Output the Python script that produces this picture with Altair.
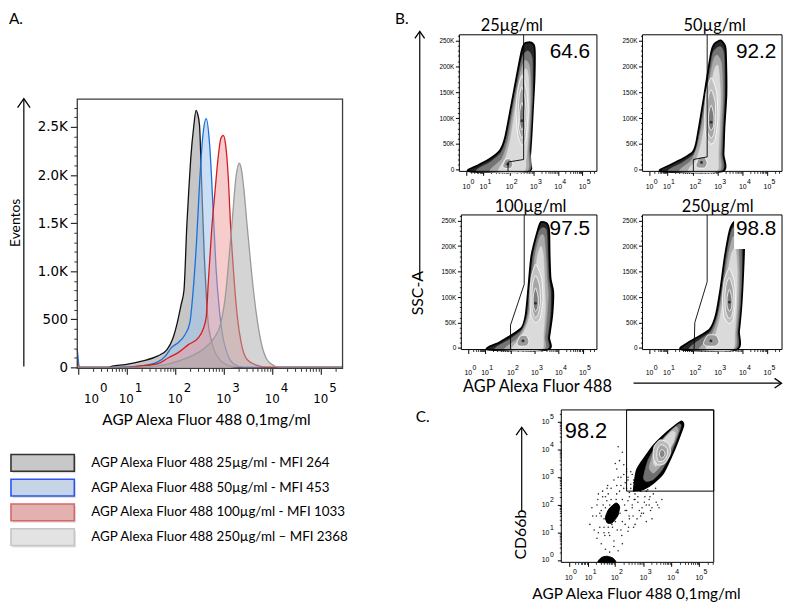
import math
import altair as alt
import pandas as pd

W, H = 784, 596   # chart box; chart coordinate = page coordinate - 8

# ---------------- Panel A: overlaid histograms (x = decades, y = events) ----------------
h25_x = [-0.02, 0.03, 0.6, 0.7, 0.97, 1.31, 1.63, 1.83, 1.95, 2.04, 2.12, 2.18, 2.24, 2.28, 2.32,
         2.38, 2.43, 2.46, 2.50, 2.55, 2.60, 2.64, 2.68, 2.74, 2.80, 2.90, 2.98, 3.15, 3.30, 5.45]
h25_y = [40, 0, 0, 12, 30, 65, 117, 185, 300, 460, 650, 802, 1488, 1850, 2174,
         2500, 2672, 2640, 2520, 1831, 1145, 750, 460, 290, 185, 90, 50, 10, 0, 0]
h50_x = [-0.02, 0.03, 0.8, 1.31, 1.65, 1.8, 1.92, 2.06, 2.20, 2.30, 2.37, 2.44, 2.50, 2.57, 2.64,
         2.71, 2.78, 2.84, 2.91, 2.98, 3.08, 3.22, 3.42, 5.45]
h50_y = [190, 0, 0, 15, 60, 120, 206, 257, 340, 463, 802, 1317, 1900, 2414, 2586,
         2310, 1660, 1042, 597, 322, 134, 31, 0, 0]
h100_x = [-0.02, 0.03, 1.0, 1.29, 1.65, 1.86, 2.06, 2.27, 2.47, 2.57, 2.64, 2.68, 2.75, 2.82, 2.89,
          2.94, 2.99, 3.04, 3.09, 3.14, 3.21, 3.28, 3.36, 3.48, 3.69, 3.89, 5.45]
h100_y = [60, 0, 0, 15, 40, 100, 154, 237, 305, 391, 528, 871, 1420, 1831, 2208,
          2380, 2414, 2311, 2003, 1488, 940, 528, 254, 82, 20, 0, 0]
h250_x = [-0.02, 0.03, 1.2, 1.65, 2.06, 2.33, 2.60, 2.80, 2.94, 3.04, 3.11, 3.18, 3.25, 3.32, 3.36,
          3.42, 3.48, 3.55, 3.62, 3.69, 3.79, 3.89, 4.03, 4.16, 5.45]
h250_y = [30, 0, 0, 15, 65, 117, 200, 305, 460, 768, 1145, 1557, 1968, 2123, 2070,
          1831, 1488, 1111, 768, 494, 220, 82, 20, 0, 0]
hist_fill = ["#9c9c9c", "#9fc4ee", "#ee9a9a", "#aaaaaa"]
hist_fill_opacity = [0.58, 0.55, 0.5, 0.5]
hist_line = ["#111111", "#1a6fd8", "#d81c1c", "#9a9a9a"]

legend_labels = ["AGP Alexa Fluor 488 25µg/ml - MFI 264",
                 "AGP Alexa Fluor 488 50µg/ml - MFI 453",
                 "AGP Alexa Fluor 488 100µg/ml - MFI 1033",
                 "AGP Alexa Fluor 488 250µg/ml – MFI 2368"]
legend_fill = ["#c8c8c8", "#c5d5e7", "#e4b1b1", "#e3e3e3"]
legend_stroke = ["#333333", "#2b55f0", "#d46868", "#c6c6c6"]

decade_exps = [0, 1, 2, 3, 4, 5]
A_x_major = [0, 1, 2, 3, 4, 5]
A_x_label_pos = [0.275, 0.99, 2, 3, 4, 5]
A_y_major = [0, 500, 1000, 1500, 2000, 2500]

# ---------------- Panel B: SSC-A vs AGP density plots (u = display decades, k = SSC-A in K) ----------------
b_titles = ["25µg/ml", "50µg/ml", "100µg/ml", "250µg/ml"]
b_values = ["64.6", "92.2", "97.5", "98.8"]
b_value_pos = [(4.42, 227), (4.48, 227), (4.40, 233), (4.48, 233)]
B_x_label_pos = [0.17, 0.87, 1.94, 2.94, 3.94, 4.94]
B_y_major = [0, 50, 100, 150, 200, 250]

b1_outer = [(0.28, -3), (0.65, 9), (1.12, 21), (1.55, 38), (1.76, 63), (2.02, 127), (2.31, 200), (2.45, 232),
            (2.59, 245), (2.83, 246), (2.97, 236), (2.97, 180), (2.9, 115), (2.84, 63), (2.77, 19), (2.69, -3)]
b1_l2 = [(0.6, -3), (1.15, 15), (1.6, 34), (1.82, 62), (2.08, 127), (2.36, 196), (2.5, 222), (2.7, 230),
         (2.87, 215), (2.89, 150), (2.83, 90), (2.77, 40), (2.71, -3)]
b1_l3 = [(1.15, -3), (1.63, 22), (1.88, 58), (2.13, 126), (2.38, 186), (2.57, 212), (2.76, 200), (2.82, 150),
         (2.77, 85), (2.71, 35), (2.65, -3)]
b1_l4 = [(1.5, -3), (1.78, 24), (1.98, 60), (2.19, 122), (2.42, 176), (2.61, 196), (2.72, 180), (2.75, 120),
         (2.69, 60), (2.62, 20), (2.53, -3)]
b1_loop1 = [(2.45, 182), (2.65, 150), (2.7, 110), (2.61, 60), (2.45, 48), (2.28, 68), (2.21, 115), (2.28, 155)]
b1_loop2 = [(2.45, 160), (2.59, 135), (2.62, 100), (2.54, 70), (2.43, 62), (2.32, 80), (2.3, 112), (2.34, 143)]
b1_loop3 = [(2.45, 130), (2.55, 110), (2.53, 86), (2.44, 77), (2.36, 90), (2.36, 112)]
b1_bloop = [(1.66, 8), (1.78, 20), (1.97, 21), (2.08, 11), (1.98, 3), (1.76, 3)]
b1_cores = [(2.45, 95), (1.87, 11)]
b1_gate = [(2.52, 261), (2.52, 20), (1.88, 15), (1.88, -3)]

b2_outer = [(0.64, -3), (0.98, 9), (1.52, 22), (1.92, 35), (2.05, 51), (2.19, 89), (2.39, 147), (2.66, 227),
            (2.8, 244), (3.05, 250), (3.22, 240), (3.26, 224), (3.28, 147), (3.2, 83), (3.16, 31), (3.1, -3)]
b2_l2 = [(0.95, -3), (1.5, 14), (1.95, 30), (2.1, 50), (2.25, 89), (2.45, 147), (2.7, 220), (2.85, 234),
         (3.05, 238), (3.18, 222), (3.2, 147), (3.14, 83), (3.1, 31), (3.05, -3)]
b2_l3 = [(1.4, -3), (1.85, 18), (2.1, 45), (2.3, 89), (2.5, 147), (2.74, 210), (2.9, 222), (3.08, 205),
         (3.13, 147), (3.08, 83), (3.03, 31), (2.98, -3)]
b2_l4 = [(1.75, -3), (2.05, 20), (2.25, 50), (2.42, 95), (2.6, 150), (2.8, 195), (2.95, 200), (3.04, 147),
         (3.0, 83), (2.95, 30), (2.88, -3)]
b2_loop1 = [(2.66, 178), (2.88, 150), (2.93, 100), (2.82, 58), (2.64, 50), (2.44, 66), (2.4, 110), (2.46, 150)]
b2_loop2 = [(2.66, 155), (2.82, 132), (2.84, 96), (2.76, 68), (2.64, 62), (2.5, 76), (2.48, 108), (2.53, 138)]
b2_loop3 = [(2.66, 125), (2.77, 106), (2.76, 85), (2.66, 76), (2.56, 86), (2.56, 108)]
b2_bloop = [(2.05, 10), (2.18, 24), (2.4, 24), (2.5, 13), (2.4, 4), (2.12, 4)]
b2_cores = [(2.66, 92), (2.27, 14)]
b2_gate = [(2.5, 261), (2.5, 25), (1.94, 20), (1.94, -3)]

b3_outer = [(0.98, -3), (1.46, 11), (1.93, 24), (2.4, 40), (2.56, 65), (2.67, 117), (2.8, 181), (3.07, 232),
            (3.2, 247), (3.45, 244), (3.54, 230), (3.56, 181), (3.6, 136), (3.71, 110), (3.67, 65), (3.54, 21), (3.47, -3)]
b3_l2 = [(1.3, -3), (1.9, 17), (2.4, 36), (2.62, 65), (2.73, 117), (2.87, 181), (3.1, 226), (3.25, 236),
         (3.43, 230), (3.48, 181), (3.52, 136), (3.6, 110), (3.58, 65), (3.47, 21), (3.4, -3)]
b3_l3 = [(1.7, -3), (2.2, 18), (2.55, 45), (2.7, 75), (2.82, 120), (2.95, 181), (3.15, 218), (3.32, 220),
         (3.4, 181), (3.45, 136), (3.5, 105), (3.45, 65), (3.36, 21), (3.3, -3)]
b3_l4 = [(2.0, -3), (2.35, 20), (2.65, 50), (2.8, 85), (2.92, 130), (3.05, 180), (3.2, 200), (3.3, 181),
         (3.35, 130), (3.38, 80), (3.3, 25), (3.22, -3)]
b3_loop1 = [(2.98, 164), (3.22, 138), (3.28, 95), (3.16, 58), (2.96, 50), (2.78, 65), (2.74, 105), (2.8, 140)]
b3_loop2 = [(2.98, 142), (3.14, 122), (3.18, 90), (3.08, 66), (2.95, 60), (2.84, 74), (2.82, 102), (2.86, 128)]
b3_loop3 = [(2.97, 118), (3.08, 100), (3.07, 80), (2.97, 72), (2.88, 82), (2.88, 102)]
b3_bloop = [(2.2, 10), (2.35, 24), (2.6, 24), (2.7, 12), (2.58, 4), (2.28, 4)]
b3_cores = [(2.97, 88), (2.45, 14)]
b3_gate = [(2.5, 261), (2.5, 125), (1.93, 45), (1.93, -3)]

b4_outer = [(1.47, -3), (1.74, 11), (2.21, 24), (2.61, 37), (2.85, 65), (3.04, 117), (3.22, 181), (3.42, 232),
            (3.6, 248), (3.85, 250), (4.0, 215), (3.96, 149), (3.89, 85), (3.79, 33), (3.69, -3)]
b4_l2 = [(1.8, -3), (2.25, 18), (2.65, 33), (2.92, 65), (3.1, 117), (3.28, 181), (3.47, 228), (3.65, 238),
         (3.88, 210), (3.9, 149), (3.84, 85), (3.74, 33), (3.64, -3)]
b4_l3 = [(2.2, -3), (2.6, 20), (2.85, 45), (3.02, 80), (3.18, 125), (3.35, 181), (3.55, 218), (3.75, 205),
         (3.8, 149), (3.78, 90), (3.68, 33), (3.58, -3)]
b4_l4 = [(2.45, -3), (2.8, 22), (3.0, 55), (3.15, 95), (3.3, 140), (3.48, 185), (3.65, 195), (3.72, 149),
         (3.7, 90), (3.62, 30), (3.52, -3)]
b4_loop1 = [(3.4, 156), (3.6, 130), (3.64, 92), (3.55, 56), (3.38, 48), (3.18, 62), (3.12, 100), (3.2, 135)]
b4_loop2 = [(3.4, 138), (3.55, 116), (3.58, 88), (3.5, 64), (3.38, 58), (3.25, 72), (3.22, 100), (3.27, 125)]
b4_loop3 = [(3.4, 115), (3.5, 98), (3.49, 80), (3.4, 72), (3.31, 82), (3.31, 100)]
b4_bloop = [(2.35, 10), (2.52, 25), (2.85, 25), (2.98, 13), (2.85, 4), (2.45, 4)]
b4_cores = [(3.4, 90), (2.65, 14)]
b4_gate = [(2.5, 261), (2.5, 130), (2.0, 50), (1.97, -3)]
b4_label_box = (3.59, 5.53, 194, 259)

# ---------------- Panel C: CD66b vs AGP ----------------
C_x_label_pos = [0.30, 1.0, 1.93, 2.95, 3.93, 4.93]
C_y_major = [0, 1, 2, 3, 4, 5]
c_value = "98.2"
c_value_pos = (0.91, 4.68)
c_gate = (2.35, 5.44, 2.5, 5.43)
c_outer = [(2.60, 2.55), (2.71, 3.26), (3.01, 3.74), (3.30, 4.15), (3.65, 4.51), (4.0, 4.81), (4.29, 5.02),
           (4.37, 4.87), (4.18, 4.33), (3.94, 3.74), (3.65, 3.14), (3.30, 2.79), (2.95, 2.57), (2.66, 2.52)]
c_l2 = [(2.95, 3.0), (3.1, 3.6), (3.35, 4.05), (3.65, 4.42), (3.98, 4.75), (4.22, 4.93), (4.28, 4.84),
        (4.12, 4.35), (3.9, 3.8), (3.6, 3.25), (3.3, 2.92), (3.05, 2.85)]
c_l3 = [(3.15, 3.35), (3.3, 3.85), (3.55, 4.25), (3.85, 4.6), (4.1, 4.82), (4.18, 4.7), (4.05, 4.3),
        (3.82, 3.85), (3.55, 3.4), (3.3, 3.15)]
c_l4 = [(3.3, 3.55), (3.45, 4.0), (3.7, 4.4), (3.95, 4.65), (4.08, 4.6), (4.0, 4.25), (3.78, 3.9),
        (3.55, 3.55), (3.38, 3.4)]
c_loop1 = [(3.55, 4.35), (3.85, 4.2), (3.9, 3.85), (3.7, 3.5), (3.45, 3.45), (3.3, 3.7), (3.32, 4.1)]
c_loop2 = [(3.58, 4.18), (3.78, 4.05), (3.8, 3.82), (3.66, 3.6), (3.48, 3.58), (3.42, 3.75), (3.45, 4.02)]
c_loop3 = [(3.6, 4.0), (3.7, 3.92), (3.7, 3.78), (3.6, 3.7), (3.52, 3.78), (3.53, 3.92)]
c_low = [(1.97, 2.07), (2.1, 1.95), (2.04, 1.62), (1.84, 1.36), (1.67, 1.35), (1.6, 1.55), (1.72, 1.85)]
c_bottom = [(1.35, -0.07), (1.45, 0.1), (1.65, 0.15), (1.87, 0.08), (1.95, -0.07)]
dots_x = [1.05, 1.12, 1.2, 1.28, 1.33, 1.4, 1.45, 1.5, 1.55, 1.6, 1.62, 1.68, 1.7, 1.75, 1.8, 1.85, 1.9, 1.95,
          2.0, 2.05, 2.1, 2.15, 2.2, 2.25, 2.3, 2.35, 2.4, 2.45, 2.5, 2.55, 2.6, 2.65, 2.7, 2.75, 2.8, 2.85,
          2.9, 2.95, 3.0, 3.05, 3.1, 3.15, 3.2, 3.3, 3.4, 3.5,
          1.3, 1.45, 1.58, 1.72, 1.9, 2.02, 2.18, 2.3, 2.42, 2.58, 2.72, 2.88, 3.05, 3.25, 3.45,
          1.15, 1.35, 1.52, 1.66, 1.83, 1.98, 2.12, 2.28, 2.44, 2.62, 2.8, 2.98, 3.18, 3.38, 3.6,
          2.0, 2.1, 2.2, 2.05, 1.95, 2.25, 2.35, 2.15,
          1.6, 1.75, 1.9, 2.05, 2.2, 1.55, 1.85, 2.4, 2.6,
          1.3, 1.4, 1.5, 1.6, 1.7, 1.8, 1.9, 2.0, 2.1, 2.2,
          1.35, 1.55, 1.75, 1.95, 2.15, 2.35, 2.55, 2.75, 2.95, 3.15,
          2.3, 2.4, 2.5, 2.55, 2.6, 2.45, 2.35, 2.5, 2.65, 2.4,
          1.45, 1.65, 1.85, 2.05, 2.25, 2.45, 2.65, 2.85, 3.05, 3.25]
dots_y = [1.3, 1.9, 1.1, 1.6, 2.2, 1.2, 1.8, 2.5, 1.0, 2.3, 1.5, 2.7, 1.2, 2.0, 2.6, 1.4, 2.9, 1.7,
          2.4, 3.0, 1.9, 2.7, 2.2, 3.1, 1.8, 2.6, 2.9, 2.3, 3.2, 2.0, 2.8, 2.4, 3.0, 2.1, 2.7, 2.5,
          1.9, 2.6, 2.3, 2.0, 2.55, 2.2, 1.8, 2.4, 2.1, 1.9,
          0.8, 0.6, 0.9, 1.0, 0.7, 1.1, 0.9, 1.3, 1.2, 1.6, 1.5, 1.7, 1.4, 1.9, 2.0,
          1.6, 2.4, 2.0, 2.6, 1.3, 2.2, 1.7, 2.0, 1.6, 2.2, 1.8, 2.1, 2.3, 2.6, 2.2,
          3.3, 3.6, 3.9, 4.1, 3.5, 3.45, 3.2, 3.0,
          0.4, 0.3, 0.5, 0.35, 0.6, 1.5, 1.75, 1.05, 1.2,
          2.0, 1.7, 2.3, 1.9, 2.4, 2.2, 1.6, 2.7, 2.5, 1.4,
          1.0, 1.2, 0.9, 1.4, 1.1, 1.8, 1.9, 2.3, 1.7, 2.0,
          2.8, 3.0, 2.6, 3.1, 2.9, 2.45, 3.3, 2.75, 2.2, 2.15,
          1.6, 2.15, 1.2, 1.7, 2.6, 1.5, 1.3, 1.6, 2.5, 1.5]


# ---------------- helpers ----------------
def S(domain, rng):
    return alt.Scale(domain=domain, range=rng, zero=False, nice=False)


DUMMY = pd.DataFrame({"z": [0]})


def log_minor(majors, top):
    out = []
    for i, a in enumerate(majors):
        b = majors[i + 1] if i + 1 < len(majors) else a + (majors[-1] - majors[-2])
        for m in range(2, 10):
            v = a + math.log10(m) * (b - a)
            if v < top:
                out.append(round(v, 4))
    return out


def shape(pts, xs, ys, fx, fy, fill=None, stroke=None, sw=0.6, interp="cardinal-closed"):
    df = pd.DataFrame({fx: [p[0] for p in pts], fy: [p[1] for p in pts], "i": list(range(len(pts)))})
    props = dict(interpolate=interp, strokeWidth=sw, strokeJoin="round")
    if interp.startswith("cardinal"):
        props["tension"] = 0.3
    if fill is not None:
        props["fill"] = fill
    props["stroke"] = stroke if stroke is not None else fill
    return alt.Chart(df).mark_line(**props).encode(
        x=alt.X(f"{fx}:Q", scale=xs, axis=None),
        y=alt.Y(f"{fy}:Q", scale=ys, axis=None),
        order="i:Q")


def points(pts, xs, ys, fx, fy, color, size):
    df = pd.DataFrame({fx: [p[0] for p in pts], fy: [p[1] for p in pts]})
    return alt.Chart(df).mark_circle(color=color, size=size, opacity=1).encode(
        x=alt.X(f"{fx}:Q", scale=xs, axis=None), y=alt.Y(f"{fy}:Q", scale=ys, axis=None))


def frame(xs, ys, xd, yd, xmaj, xmin, ymaj, ymin, xoff, yoff, tmaj, tmin, fcolor, fwidth, ylab=None):
    fdf = pd.DataFrame({"x0": [xd[0]], "x1": [xd[1]], "y0": [yd[0]], "y1": [yd[1]]})
    ykw = dict(orient="left", offset=yoff, values=ymaj, domain=False, grid=False, tickSize=tmaj[1],
               tickColor="black", tickWidth=1, title=None)
    if ylab:
        ykw.update(ylab)
    else:
        ykw["labels"] = False
    minor = alt.Chart(fdf).mark_rect(opacity=0).encode(
        x=alt.X("x0:Q", scale=xs, axis=alt.Axis(orient="bottom", offset=xoff, values=xmin, labels=False,
                                                 domain=False, grid=False, tickSize=tmin[0], tickColor="black",
                                                 tickWidth=0.8, title=None)),
        x2="x1:Q",
        y=alt.Y("y0:Q", scale=ys, axis=alt.Axis(orient="left", offset=yoff, values=ymin, labels=False,
                                                 domain=False, grid=False, tickSize=tmin[1], tickColor="black",
                                                 tickWidth=0.8, title=None)),
        y2="y1:Q")
    major = alt.Chart(fdf).mark_rect(fillOpacity=0, stroke=fcolor, strokeWidth=fwidth).encode(
        x=alt.X("x0:Q", scale=xs, axis=alt.Axis(orient="bottom", offset=xoff, values=xmaj, labels=False,
                                                 domain=False, grid=False, tickSize=tmaj[0], tickColor="black",
                                                 tickWidth=1, title=None)),
        x2="x1:Q",
        y=alt.Y("y0:Q", scale=ys, axis=alt.Axis(**ykw)),
        y2="y1:Q")
    return [minor, major]


def xdec(pos, xs, ybase, fs, dxe, rise, font):
    df = pd.DataFrame({"p": pos, "e": [str(e) for e in decade_exps]})
    base = alt.Chart(df).mark_text(text="10", font=font, fontSize=fs, align="center", baseline="middle",
                                   color="black").encode(x=alt.X("p:Q", scale=xs, axis=None), y=alt.value(ybase))
    expo = alt.Chart(df).mark_text(font=font, fontSize=fs, align="left", baseline="middle", dx=dxe, dy=-rise,
                                   color="black").encode(x=alt.X("p:Q", scale=xs, axis=None), y=alt.value(ybase),
                                                         text="e:N")
    return [base, expo]


def ydec(pos, ys, xright, fs, rise, font):
    df = pd.DataFrame({"p": pos, "e": [str(e) for e in decade_exps]})
    base = alt.Chart(df).mark_text(text="10", font=font, fontSize=fs, align="right", baseline="middle",
                                   color="black").encode(y=alt.Y("p:Q", scale=ys, axis=None), x=alt.value(xright))
    expo = alt.Chart(df).mark_text(font=font, fontSize=fs, align="left", baseline="middle", dx=0.5, dy=-rise,
                                   color="black").encode(y=alt.Y("p:Q", scale=ys, axis=None), x=alt.value(xright),
                                                         text="e:N")
    return [base, expo]


def ann(text, x, y, size, font="Lato", angle=0, align="center", baseline="middle"):
    return alt.Chart(DUMMY).mark_text(text=text, font=font, fontSize=size, angle=angle, align=align,
                                      baseline=baseline, color="black").encode(x=alt.value(x), y=alt.value(y))


def vrule(x, y1, y2, w=1.2):
    return alt.Chart(DUMMY).mark_rule(color="black", strokeWidth=w).encode(
        x=alt.value(x), y=alt.value(y1), y2=alt.value(y2))


def hrule(y, x1, x2, w=1.2):
    return alt.Chart(DUMMY).mark_rule(color="black", strokeWidth=w).encode(
        y=alt.value(y), x=alt.value(x1), x2=alt.value(x2))


def chevron(x, y, path, size, w=1.3):
    return alt.Chart(DUMMY).mark_point(shape=path, size=size, filled=False, color="black", strokeWidth=w,
                                       opacity=1).encode(x=alt.value(x), y=alt.value(y))


# ---------------- Panel A ----------------
A_xd, A_yd = [-0.02, 5.45], [-10, 2790]
A_xs, A_ys = S(A_xd, [70, 338]), S(A_yd, [361, 89])
A_layers = []
for hx, hy, fc, fo, lc in zip([h25_x, h50_x, h100_x, h250_x], [h25_y, h50_y, h100_y, h250_y],
                              hist_fill, hist_fill_opacity, hist_line):
    df = pd.DataFrame({"d": hx, "c": hy})
    enc = dict(x=alt.X("d:Q", scale=A_xs, axis=None), y=alt.Y("c:Q", scale=A_ys, axis=None))
    A_layers.append(alt.Chart(df).mark_area(color=fc, opacity=fo, interpolate="monotone").encode(**enc))
    A_layers.append(alt.Chart(df).mark_line(color=lc, strokeWidth=1.3, interpolate="monotone").encode(**enc))
A_ylab = dict(labelExpr="datum.value == 0 ? '0' : (datum.value < 1000 ? '500' : format(datum.value / 1000, '.1f') + 'K')",
              labelFont="DejaVu Sans", labelFontSize=13.5, labelColor="black", labelPadding=3,
              labelFlush=False, labelOverlap=False)
A_layers += frame(A_xs, A_ys, A_xd, A_yd, A_x_major, log_minor(A_x_major, 5.45), A_y_major,
                  [v for v in range(100, 2800, 100) if v % 500], 361 - H, -70, (6, 7), (3, 3.5), "#3c3c3c", 1.3, A_ylab)
A_layers += xdec(A_x_label_pos, A_xs, 392, 12, 8.5, 11, "DejaVu Sans")
panelA = alt.layer(*A_layers).resolve_axis(x="independent", y="independent")

# ---------------- Legend ----------------
leg_df = pd.DataFrame({"lab": legend_labels, "fillc": legend_fill, "strokec": legend_stroke,
                       "x0": [0.0] * 4, "x1": [1.0] * 4, "tx": [1.266] * 4})
LX = S([0, 1], [3, 67])
LY = alt.Scale(type="band", domain=legend_labels, range=[448, 540], paddingInner=0.32, paddingOuter=0)
leg_shadow = alt.Chart(leg_df).mark_rect(fill="#b5b5b5", opacity=0.45, xOffset=1.5, x2Offset=1.5, yOffset=2,
                                         y2Offset=2).encode(
    x=alt.X("x0:Q", scale=LX, axis=None), x2="x1:Q", y=alt.Y("lab:N", scale=LY, axis=None))
leg_box = alt.Chart(leg_df).mark_rect(strokeWidth=1.6).encode(
    x=alt.X("x0:Q", scale=LX, axis=None), x2="x1:Q", y=alt.Y("lab:N", scale=LY, axis=None),
    fill=alt.Fill("fillc:N", scale=None), stroke=alt.Stroke("strokec:N", scale=None))
leg_txt = alt.Chart(leg_df).mark_text(align="left", baseline="middle", font="Lato", fontSize=13.5,
                                      color="black").encode(
    x=alt.X("tx:Q", scale=LX, axis=None), y=alt.Y("lab:N", scale=LY, axis=None, bandPosition=0.5), text="lab:N")
panelL = alt.layer(leg_shadow, leg_box, leg_txt)

# ---------------- Panel B ----------------
B_xd, B_yd = [-0.12, 5.53], [-3, 261]
B_x_minor = log_minor(B_x_label_pos, 5.53)
B_y_minor = [v for v in range(10, 261, 10) if v % 50]
B_ylab = dict(labelExpr="datum.value == 0 ? '0' : datum.value + 'K'", labelFont="Liberation Sans",
              labelFontSize=6.5, labelColor="black", labelPadding=1.5, labelFlush=False, labelOverlap=False)


def b_panel(xr, yr, sh, gate, value, vpos, lab_y, box=None):
    xs, ys = S(B_xd, xr), S(B_yd, yr)
    outer, l2, l3, l4, lp1, lp2, lp3, blp, cores = sh
    L = [shape(outer, xs, ys, "u", "k", fill="#262626", stroke="black", sw=1.8),
         shape(l2, xs, ys, "u", "k", fill="#747474"),
         shape(l3, xs, ys, "u", "k", fill="#ababab"),
         shape(l4, xs, ys, "u", "k", fill="#dadada"),
         shape(lp1, xs, ys, "u", "k", fill="#c2c2c2", stroke="white", sw=0.8),
         shape(lp2, xs, ys, "u", "k", fill="#a6a6a6", stroke="white", sw=0.8),
         shape(lp3, xs, ys, "u", "k", fill="#7c7c7c", stroke="white", sw=0.8),
         shape(blp, xs, ys, "u", "k", fill="#9a9a9a", stroke="white", sw=0.8),
         points(cores, xs, ys, "u", "k", "#333333", 9),
         shape(gate, xs, ys, "u", "k", stroke="black", sw=0.9, interp="linear")]
    if box is not None:
        bdf = pd.DataFrame({"a": [box[0]], "b": [box[1]], "c": [box[2]], "d": [box[3]]})
        L.append(alt.Chart(bdf).mark_rect(color="white").encode(
            x=alt.X("a:Q", scale=xs, axis=None), x2="b:Q", y=alt.Y("c:Q", scale=ys, axis=None), y2="d:Q"))
    vdf = pd.DataFrame({"u": [vpos[0]], "k": [vpos[1]], "t": [value]})
    L.append(alt.Chart(vdf).mark_text(font="Liberation Sans", fontSize=21, align="center", baseline="middle",
                                      color="black").encode(
        x=alt.X("u:Q", scale=xs, axis=None), y=alt.Y("k:Q", scale=ys, axis=None), text="t:N"))
    L += frame(xs, ys, B_xd, B_yd, B_x_label_pos, B_x_minor, B_y_major, B_y_minor, yr[0] - H, -xr[0],
               (4, 4), (2, 2), "black", 1, B_ylab)
    L += xdec(B_x_label_pos, xs, lab_y, 7, 4.2, 5, "Liberation Sans")
    return alt.layer(*L).resolve_axis(x="independent", y="independent")


panelB1 = b_panel([456, 595], [162, 24], (b1_outer, b1_l2, b1_l3, b1_l4, b1_loop1, b1_loop2, b1_loop3, b1_bloop, b1_cores),
                  b1_gate, b_values[0], b_value_pos[0], 177.5)
panelB2 = b_panel([641, 782], [162, 24], (b2_outer, b2_l2, b2_l3, b2_l4, b2_loop1, b2_loop2, b2_loop3, b2_bloop, b2_cores),
                  b2_gate, b_values[1], b_value_pos[1], 177.5)
panelB3 = b_panel([458, 595], [342, 206], (b3_outer, b3_l2, b3_l3, b3_l4, b3_loop1, b3_loop2, b3_loop3, b3_bloop, b3_cores),
                  b3_gate, b_values[2], b_value_pos[2], 366)
panelB4 = b_panel([641, 782], [342, 206], (b4_outer, b4_l2, b4_l3, b4_l4, b4_loop1, b4_loop2, b4_loop3, b4_bloop, b4_cores),
                  b4_gate, b_values[3], b_value_pos[3], 366, box=b4_label_box)

# ---------------- Panel C ----------------
C_xd, C_yd = [0.035, 5.44], [-0.07, 5.43]
C_xs, C_ys = S(C_xd, [559, 713]), S(C_yd, [557, 403])
assert len(dots_x) == len(dots_y)
dots_df = pd.DataFrame({"cx": dots_x, "cy": dots_y})
C_layers = [
    alt.Chart(dots_df).mark_circle(color="black", size=2.5, opacity=0.85).encode(
        x=alt.X("cx:Q", scale=C_xs, axis=None), y=alt.Y("cy:Q", scale=C_ys, axis=None)),
    shape(c_low, C_xs, C_ys, "cx", "cy", fill="black", stroke="black", sw=1),
    shape(c_bottom, C_xs, C_ys, "cx", "cy", fill="black", stroke="black", sw=1),
    shape(c_outer, C_xs, C_ys, "cx", "cy", fill="black", stroke="black", sw=1.5),
    shape(c_l2, C_xs, C_ys, "cx", "cy", fill="#6e6e6e"),
    shape(c_l3, C_xs, C_ys, "cx", "cy", fill="#ababab"),
    shape(c_l4, C_xs, C_ys, "cx", "cy", fill="#d8d8d8"),
    shape(c_loop1, C_xs, C_ys, "cx", "cy", fill="#bcbcbc", stroke="white", sw=0.8),
    shape(c_loop2, C_xs, C_ys, "cx", "cy", fill="#a4a4a4", stroke="white", sw=0.8),
    shape(c_loop3, C_xs, C_ys, "cx", "cy", fill="#858585", stroke="white", sw=0.8),
]
gdf = pd.DataFrame({"a": [c_gate[0]], "b": [c_gate[1]], "c": [c_gate[2]], "d": [c_gate[3]]})
C_layers.append(alt.Chart(gdf).mark_rect(fillOpacity=0, stroke="black", strokeWidth=1).encode(
    x=alt.X("a:Q", scale=C_xs, axis=None), x2="b:Q", y=alt.Y("c:Q", scale=C_ys, axis=None), y2="d:Q"))
cvdf = pd.DataFrame({"cx": [c_value_pos[0]], "cy": [c_value_pos[1]], "t": [c_value]})
C_layers.append(alt.Chart(cvdf).mark_text(font="Liberation Sans", fontSize=22, align="center", baseline="middle",
                                          color="black").encode(
    x=alt.X("cx:Q", scale=C_xs, axis=None), y=alt.Y("cy:Q", scale=C_ys, axis=None), text="t:N"))
C_layers += frame(C_xs, C_ys, C_xd, C_yd, C_x_label_pos, log_minor(C_x_label_pos, 5.44), C_y_major,
                  log_minor(C_y_major, 5.43), 557 - H, -559, (4, 4), (2, 2), "black", 1)
C_layers += xdec(C_x_label_pos, C_xs, 572.5, 7, 4.2, 5.5, "Liberation Sans")
C_layers += ydec(C_y_major, C_ys, 547, 7, 5, "Liberation Sans")
panelC = alt.layer(*C_layers).resolve_axis(x="independent", y="independent")

# ---------------- annotations ----------------
UP = "M-0.7,1L0,0L0.7,1"
RIGHT = "M-1,-0.7L0,0L-1,0.7"
notes = [
    ann("A.", 1, 8, 15.5, align="left"),
    ann("B.", 391, 8, 15.5, align="left"),
    ann("C.", 412, 410, 15.5, align="left"),
    ann("Eventos", 8, 214, 14, angle=270),
    ann("AGP Alexa Fluor 488 0,1mg/ml", 200.5, 413, 15.5),
    vrule(16, 89, 359), chevron(16, 88.5, UP, 324),
    ann(b_titles[0], 509, 20, 16.5, baseline="alphabetic"),
    ann(b_titles[1], 714, 20, 16.5, baseline="alphabetic"),
    ann(b_titles[2], 528, 203, 16.5, baseline="alphabetic"),
    ann(b_titles[3], 717, 203, 16.5, baseline="alphabetic"),
    ann("SSC-A", 414, 285, 16, angle=270),
    vrule(416, 21, 272), chevron(416, 20.5, UP, 196),
    ann("AGP Alexa Fluor 488", 535, 379.5, 16.5),
    hrule(376, 632, 781), chevron(781.5, 376, RIGHT, 196),
    ann("CD66b", 518, 529, 16, angle=270),
    vrule(519, 421, 505), chevron(519, 420.5, UP, 256),
    ann("AGP Alexa Fluor 488 0,1mg/ml", 635, 589, 15.5),
]

chart = alt.layer(panelA, panelL, panelB1, panelB2, panelB3, panelB4, panelC, *notes).resolve_scale(
    x="independent", y="independent").resolve_axis(x="independent", y="independent").properties(
    width=W, height=H, padding=0, autosize=alt.AutoSizeParams(type="none")).configure_view(stroke=None)

chart.save("out.html", embed_options={"renderer": "svg", "actions": False})
